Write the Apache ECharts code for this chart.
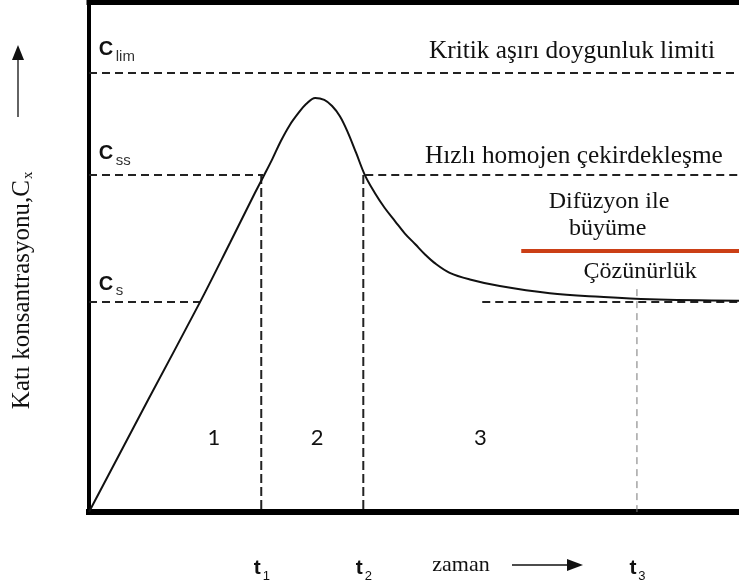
<!DOCTYPE html>
<html>
<head>
<meta charset="utf-8">
<script src="https://cdn.jsdelivr.net/npm/echarts@6/dist/echarts.min.js"></script>
<style>
  html, body { margin: 0; padding: 0; background: #fff; }
  #chart { width: 739px; height: 588px; }
</style>
</head>
<body>
<div id="chart"></div>
<script>
// Time (x) and solid concentration (y), both on a relative 0–100 scale.
const curveTime = [0, 9.1, 17.1, 21.7, 25.5, 26.8, 28.2, 29.5, 30.9, 32.2, 33.4, 34.8, 36.2, 37.4, 38.6, 39.8, 41.1, 42.5, 44.0, 45.5, 47.1, 48.6, 50.2, 51.7, 53.2, 55.5, 58.6, 63.2, 70.9, 78.6, 86.3, 100];
const curveConc = [0, 22.0, 41.2, 52.8, 62.5, 65.7, 69.2, 72.7, 75.9, 78.2, 80.0, 81.2, 80.8, 79.6, 77.6, 74.5, 70.4, 65.9, 62.5, 59.6, 57.0, 54.6, 52.5, 50.5, 48.8, 46.9, 45.6, 44.3, 42.9, 42.2, 41.7, 41.4];

// Concentration levels C_lim, C_ss, C_s and the time spans their dashed lines cover.
const levelKeys = ['lim', 'ss', 's'];
const levelConc = [86.1, 66.1, 41.2];
const levelSpans = [
  [[0, 100]],
  [[0, 26.8], [42.5, 100]],
  [[0, 17.1], [60.5, 100]]
];

// Stage boundaries t1, t2, t3 and the level each drop line starts from.
const stageTimes = [26.5, 42.2, 84.3];
const stageSubs = ['1', '2', '3'];
const stageDropFrom = [66.1, 66.1, 43.7];

// Region numbers.
const regionLabels = ['1', '2', '3'];
const regionTimes = [19.2, 35.1, 60.2];
const regionConc = 14.5;

// Red separator under "Difüzyon ile büyüme".
const growthBarTime = [66.5, 100];
const growthBarConc = 51.2;

// Annotations (centre of each text line) and their font sizes.
const noteTexts = ['Kritik aşırı doygunluk limiti', 'Hızlı homojen çekirdekleşme', 'Difüzyon ile', 'büyüme', 'Çözünürlük'];
const noteTime = [74.3, 74.6, 80.0, 79.8, 84.8];
const noteConc = [90.4, 69.8, 60.8, 55.5, 47.1];
const noteSize = [25.3, 25.3, 24, 24, 24];

// Where the C labels sit.
const levelLabelTime = 1.5;
const levelLabelConc = [90.6, 70.3, 44.7];

const INK = '#111';
const SERIF = '"Liberation Serif", "Times New Roman", serif';
const SANS = '"Liberation Sans", Arial, sans-serif';

const chart = echarts.init(document.getElementById('chart'), null, { renderer: 'canvas' });

const series = [];

// dashed level lines
levelSpans.forEach((spans, i) => {
  spans.forEach(span => {
    series.push({
      type: 'line', silent: true, symbol: 'none', z: 2,
      data: [[span[0], levelConc[i]], [span[1], levelConc[i]]],
      lineStyle: { color: '#222', width: 2, type: [8, 5] }
    });
  });
});

// vertical drop lines at t1, t2, t3
stageTimes.forEach((t, i) => {
  const last = i === stageTimes.length - 1;
  series.push({
    type: 'line', silent: true, symbol: 'none', z: 2,
    data: [[t, stageDropFrom[i]], [t, 0]],
    lineStyle: last ? { color: '#777', width: 1, type: [7, 5] } : { color: '#222', width: 2, type: [9, 4] }
  });
});

// red separator
series.push({
  type: 'line', silent: true, symbol: 'none', z: 3,
  data: [[growthBarTime[0], growthBarConc], [growthBarTime[1], growthBarConc]],
  lineStyle: { color: '#cb3f16', width: 4 }
});

// concentration curve
series.push({
  type: 'line', silent: true, symbol: 'none', z: 4, smooth: 0.35,
  data: curveTime.map((t, i) => [t, curveConc[i]]),
  lineStyle: { color: INK, width: 2 }
});

chart.setOption({
  animation: false,
  backgroundColor: '#fff',
  grid: { left: 89, right: 0, top: 2, bottom: 76 },
  xAxis: [
    {
      type: 'value', min: 0, max: 100, position: 'bottom',
      axisLine: { show: true, lineStyle: { color: '#000', width: 6, cap: 'square' } },
      axisTick: { show: false }, axisLabel: { show: false }, splitLine: { show: false }
    },
    {
      type: 'value', min: 0, max: 100, position: 'top',
      axisLine: { show: true, lineStyle: { color: '#000', width: 5, cap: 'square' } },
      axisTick: { show: false }, axisLabel: { show: false }, splitLine: { show: false }
    }
  ],
  yAxis: {
    type: 'value', min: 0, max: 100,
    axisLine: { show: true, lineStyle: { color: '#000', width: 4, cap: 'square' } },
    axisTick: { show: false }, axisLabel: { show: false }, splitLine: { show: false }
  },
  series: series
});

const px = (t, c) => chart.convertToPixel({ xAxisIndex: 0, yAxisIndex: 0 }, [t, c]);
const graphics = [];

// C labels with subscripts
levelKeys.forEach((k, i) => {
  const p = px(levelLabelTime, levelLabelConc[i]);
  graphics.push({
    type: 'text', x: p[0], y: p[1],
    style: { text: 'C', font: 'bold 20px ' + SANS, fill: INK, textAlign: 'left', textVerticalAlign: 'middle' }
  });
  graphics.push({
    type: 'text', x: p[0] + 17, y: p[1] + 7,
    style: { text: k, font: '15px ' + SANS, fill: '#333', textAlign: 'left', textVerticalAlign: 'middle' }
  });
});

// annotations
noteTexts.forEach((s, i) => {
  const p = px(noteTime[i], noteConc[i]);
  graphics.push({
    type: 'text', x: p[0], y: p[1],
    style: { text: s, font: noteSize[i] + 'px ' + SERIF, fill: INK, textAlign: 'center', textVerticalAlign: 'middle' }
  });
});

// region numbers
regionLabels.forEach((s, i) => {
  const p = px(regionTimes[i], regionConc);
  graphics.push({
    type: 'text', x: p[0], y: p[1],
    style: { text: s, font: '22px Lato, sans-serif', fill: INK, textAlign: 'center', textVerticalAlign: 'middle' }
  });
});

// t1, t2, t3 under the time axis
stageTimes.forEach((t, i) => {
  const p = px(t, 0);
  graphics.push({
    type: 'text', x: p[0] - 4, y: p[1] + 56,
    style: { text: 't', font: 'bold 21px ' + SANS, fill: INK, textAlign: 'center', textVerticalAlign: 'middle' }
  });
  graphics.push({
    type: 'text', x: p[0] + 5, y: p[1] + 64,
    style: { text: stageSubs[i], font: '13px ' + SANS, fill: INK, textAlign: 'center', textVerticalAlign: 'middle' }
  });
});

// time axis caption and arrow
const origin = px(0, 0);
const timeY = origin[1] + 53;
graphics.push({
  type: 'text', x: origin[0] + 372, y: timeY,
  style: { text: 'zaman', font: '22px ' + SERIF, fill: INK, textAlign: 'center', textVerticalAlign: 'middle' }
});
graphics.push({
  type: 'line', shape: { x1: origin[0] + 423, y1: timeY, x2: origin[0] + 480, y2: timeY },
  style: { stroke: INK, lineWidth: 1.6 }
});
graphics.push({
  type: 'polygon', shape: { points: [[origin[0] + 478, timeY - 6], [origin[0] + 494, timeY], [origin[0] + 478, timeY + 6]] },
  style: { fill: INK }
});

// concentration axis caption (rotated) and arrow
graphics.push({
  type: 'group', x: 22, y: 290, rotation: Math.PI / 2,
  children: [
    {
      type: 'text', x: 110, y: 0,
      style: { text: 'Katı konsantrasyonu,C', font: '25px ' + SERIF, fill: INK, textAlign: 'right', textVerticalAlign: 'middle' }
    },
    {
      type: 'text', x: 111, y: 6,
      style: { text: 'x', font: '15px ' + SERIF, fill: INK, textAlign: 'left', textVerticalAlign: 'middle' }
    }
  ]
});
graphics.push({
  type: 'line', shape: { x1: 18, y1: 117, x2: 18, y2: 58 },
  style: { stroke: '#222', lineWidth: 1.4 }
});
graphics.push({
  type: 'polygon', shape: { points: [[12, 60], [18, 45], [24, 60]] },
  style: { fill: INK }
});

chart.setOption({ graphic: graphics });
</script>
</body>
</html>
